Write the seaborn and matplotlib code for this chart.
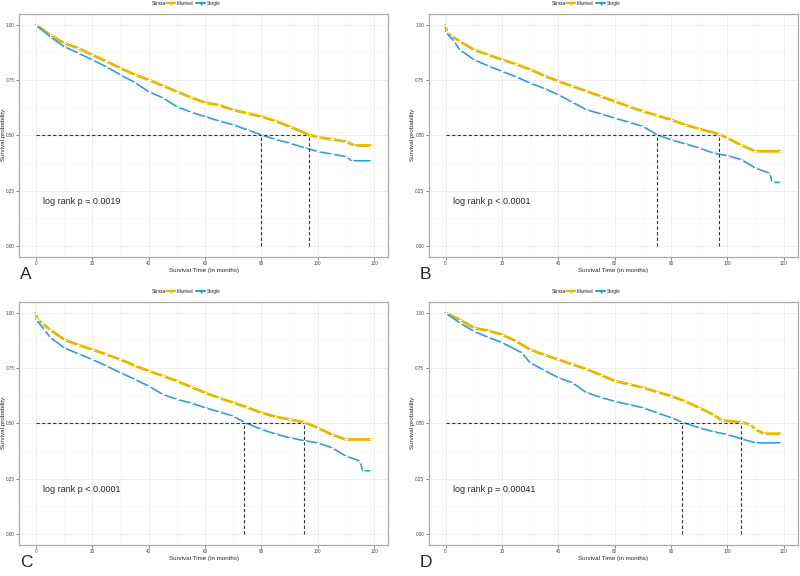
import numpy as np
import pandas as pd
import seaborn as sns
import matplotlib.pyplot as plt
from matplotlib.lines import Line2D

sns.set_style("white")
plt.rcParams["font.family"] = ["Liberation Sans", "DejaVu Sans"]

MARRIED_COLOR = "#E7B800"
SINGLE_COLOR = "#2E9FDF"

# ---------------------------------------------------------------------------
# Data
# ---------------------------------------------------------------------------
panel_labels = ["A", "B", "C", "D"]
pvalue_texts = ["log rank p = 0.0019", "log rank p < 0.0001",
                "log rank p < 0.0001", "log rank p = 0.00041"]

married_time_a = [0, 5, 10, 15, 20, 25, 30, 35, 40, 45, 50, 55, 60, 65, 70, 75, 80, 85, 90, 97, 100, 105, 110, 113, 119]
married_surv_a = [1.00, 0.955, 0.917, 0.895, 0.864, 0.835, 0.804, 0.775, 0.751, 0.725, 0.698, 0.672, 0.648, 0.637,
                  0.615, 0.600, 0.585, 0.565, 0.540, 0.502, 0.492, 0.482, 0.472, 0.454, 0.454]
single_time_a = [0, 5, 10, 15, 20, 25, 30, 35, 40, 45, 50, 55, 60, 65, 70, 75, 80, 85, 90, 95, 100, 105, 110, 112, 119]
single_surv_a = [1.00, 0.947, 0.902, 0.872, 0.842, 0.810, 0.774, 0.740, 0.698, 0.670, 0.630, 0.605, 0.585, 0.565,
                 0.548, 0.525, 0.502, 0.482, 0.465, 0.445, 0.427, 0.415, 0.404, 0.385, 0.385]

married_time_b = [0, 0.5, 2, 5, 10, 15, 20, 25, 30, 35, 40, 45, 50, 55, 60, 65, 70, 75, 80, 85, 90, 97, 100, 105, 110, 119]
married_surv_b = [1.00, 0.965, 0.950, 0.926, 0.888, 0.865, 0.843, 0.822, 0.798, 0.770, 0.745, 0.722, 0.700, 0.677,
                  0.654, 0.631, 0.609, 0.590, 0.571, 0.548, 0.529, 0.506, 0.488, 0.455, 0.428, 0.428]
single_time_b = [0, 3, 5, 10, 15, 20, 25, 30, 35, 40, 45, 50, 55, 60, 65, 70, 75, 80, 85, 90, 95, 100, 105, 110, 115, 116, 119]
single_surv_b = [0.970, 0.926, 0.888, 0.843, 0.815, 0.790, 0.765, 0.737, 0.712, 0.684, 0.650, 0.616, 0.598, 0.578,
                 0.560, 0.541, 0.503, 0.480, 0.462, 0.443, 0.420, 0.408, 0.390, 0.352, 0.329, 0.287, 0.287]

married_time_c = [0, 0.5, 2, 5, 10, 15, 20, 25, 30, 35, 40, 45, 50, 55, 60, 65, 70, 75, 80, 85, 90, 95, 100, 105, 110, 119]
married_surv_c = [1.00, 0.970, 0.955, 0.924, 0.879, 0.855, 0.834, 0.812, 0.789, 0.762, 0.737, 0.715, 0.692, 0.665,
                  0.639, 0.615, 0.594, 0.572, 0.548, 0.530, 0.518, 0.506, 0.480, 0.449, 0.427, 0.427]
single_time_c = [0, 3, 5, 10, 15, 20, 25, 30, 35, 40, 45, 50, 55, 60, 65, 70, 74, 80, 85, 90, 95, 100, 105, 110, 115, 116, 119]
single_surv_c = [0.970, 0.924, 0.890, 0.842, 0.815, 0.789, 0.760, 0.729, 0.700, 0.669, 0.631, 0.609, 0.592, 0.571,
                 0.552, 0.533, 0.504, 0.473, 0.452, 0.435, 0.422, 0.412, 0.390, 0.352, 0.329, 0.285, 0.285]

married_time_d = [0, 5, 10, 15, 20, 25, 30, 35, 40, 45, 50, 55, 60, 65, 70, 75, 80, 85, 90, 95, 98, 105, 108, 110, 113, 119]
married_surv_d = [1.00, 0.970, 0.932, 0.920, 0.902, 0.872, 0.834, 0.810, 0.789, 0.767, 0.745, 0.720, 0.692, 0.677,
                  0.662, 0.642, 0.624, 0.600, 0.571, 0.540, 0.514, 0.505, 0.495, 0.473, 0.453, 0.453]
single_time_d = [0, 5, 10, 15, 20, 27, 30, 35, 40, 45, 50, 55, 60, 65, 70, 75, 80, 84, 90, 95, 100, 105, 110, 119]
single_surv_d = [1.00, 0.955, 0.917, 0.890, 0.866, 0.820, 0.775, 0.740, 0.707, 0.684, 0.639, 0.618, 0.600, 0.585,
                 0.571, 0.548, 0.526, 0.505, 0.480, 0.462, 0.450, 0.430, 0.412, 0.412]

# median survival (months) for Single, Married
medians = [(80, 97), (75, 97), (74, 95), (84, 105)]

panels = [
    (married_time_a, married_surv_a, single_time_a, single_surv_a),
    (married_time_b, married_surv_b, single_time_b, single_surv_b),
    (married_time_c, married_surv_c, single_time_c, single_surv_c),
    (married_time_d, married_surv_d, single_time_d, single_surv_d),
]

# ---------------------------------------------------------------------------
# Figure
# ---------------------------------------------------------------------------
fig = plt.figure(figsize=(8, 5.76), dpi=100)

# axes positions in figure fractions (left, bottom, width, height)
positions = [
    (0.024, 0.554, 0.461, 0.422),
    (0.536, 0.554, 0.461, 0.422),
    (0.024, 0.054, 0.461, 0.422),
    (0.536, 0.054, 0.461, 0.422),
]

for i, (mt, ms, st, ss) in enumerate(panels):
    ax = fig.add_axes(positions[i])

    df_m = pd.DataFrame({"time": mt, "surv": ms})
    df_s = pd.DataFrame({"time": st, "surv": ss})

    sns.lineplot(data=df_m, x="time", y="surv", color=MARRIED_COLOR,
                 linewidth=2.0, marker="+", markersize=3, markeredgewidth=0.8, ax=ax)
    sns.lineplot(data=df_s, x="time", y="surv", color=SINGLE_COLOR,
                 linewidth=1.2, marker="+", markersize=3, markeredgewidth=0.8, ax=ax)

    # median survival guides
    med_single, med_married = medians[i]
    ax.plot([0, med_married], [0.5, 0.5], color="#333333", lw=0.8, ls=(0, (3, 2)))
    for m in (med_single, med_married):
        ax.plot([m, m], [0, 0.5], color="#333333", lw=0.8, ls=(0, (3, 2)))

    ax.text(2.5, 0.2, pvalue_texts[i], fontsize=6.5, va="center", ha="left")

    ax.set_xlim(-5.95, 124.95)
    ax.set_ylim(-0.05, 1.05)
    ax.set_xticks([0, 20, 40, 60, 80, 100, 120])
    ax.set_yticks([0.0, 0.25, 0.5, 0.75, 1.0])
    ax.set_yticklabels(["0.00", "0.25", "0.50", "0.75", "1.00"])
    ax.set_xticks(np.arange(10, 120, 20), minor=True)
    ax.set_yticks([0.125, 0.375, 0.625, 0.875], minor=True)
    ax.grid(which="major", color="#EBEBEB", lw=0.6)
    ax.grid(which="minor", color="#F5F5F5", lw=0.4)
    ax.tick_params(axis="both", which="major", labelsize=3.3, length=2, width=0.5,
                   color="#555555", pad=1.2, labelcolor="#444444", bottom=True, left=True)
    ax.tick_params(axis="both", which="minor", length=0)
    for sp in ax.spines.values():
        sp.set_color("#AAAAAA")
        sp.set_linewidth(0.9)

    ax.set_xlabel("Survival Time (in months)", fontsize=4.5)
    ax.set_ylabel("Survival probability", fontsize=4.5)
    ax.xaxis.set_label_coords(0.5, -0.045)
    ax.yaxis.set_label_coords(-0.037, 0.5)

    # panel letter
    x0 = 0.0 if i % 2 == 0 else 0.5
    y0 = 0.5 if i < 2 else 0.0
    fig.text(x0 + 0.025, y0 + 0.01, panel_labels[i], fontsize=12.5, ha="left", va="bottom")

    # strata legend at top of each panel
    handles = [
        Line2D([], [], color=MARRIED_COLOR, lw=1.5, marker="+", markersize=3),
        Line2D([], [], color=SINGLE_COLOR, lw=1.5, marker="+", markersize=3),
    ]
    leg_y = y0 + 0.5
    fig.text(x0 + 0.190, leg_y - 0.006, "Strata", fontsize=3.8, ha="left", va="center")
    fig.legend(handles, ["Married", "Single"], loc="center left",
               bbox_to_anchor=(x0 + 0.208, leg_y - 0.006), ncol=2, frameon=False,
               fontsize=3.5, handlelength=1.8, handletextpad=0.3, columnspacing=0.6,
               borderpad=0, borderaxespad=0)

fig.savefig("out.png", dpi=100)
